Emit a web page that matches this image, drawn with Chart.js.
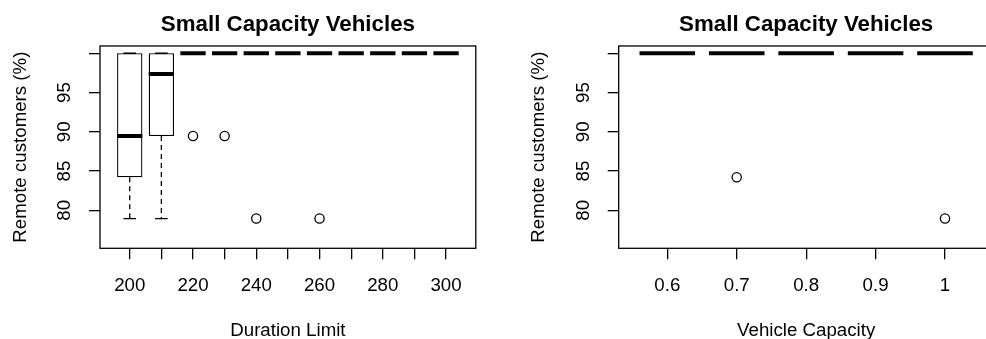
<!DOCTYPE html>
<html><head><meta charset="utf-8">
<script src="https://cdn.jsdelivr.net/npm/chart.js@4"></script>
<style>
html,body{margin:0;padding:0;overflow:hidden;background:#fff;width:986px;height:339px;}
#left{position:absolute;left:0;top:0;}
#right{position:absolute;left:493px;top:0;}
</style></head><body>
<canvas id="left" width="493" height="339"></canvas>
<canvas id="right" width="510" height="339"></canvas>
<script>
// ---- data ----
const durationCategories   = [200, 210, 220, 230, 240, 250, 260, 270, 280, 290, 300];
const durationTickLabels   = ['200', '', '220', '', '240', '', '260', '', '280', '', '300'];
const durationLowerWhisker = [78.95, 78.95, 100, 100, 100, 100, 100, 100, 100, 100, 100];
const durationLowerHinge   = [84.21, 89.47, 100, 100, 100, 100, 100, 100, 100, 100, 100];
const durationMedian       = [89.47, 97.37, 100, 100, 100, 100, 100, 100, 100, 100, 100];
const durationUpperHinge   = [100, 100, 100, 100, 100, 100, 100, 100, 100, 100, 100];
const durationUpperWhisker = [100, 100, 100, 100, 100, 100, 100, 100, 100, 100, 100];
const durationOutlierCategory = [220, 230, 240, 260];
const durationOutlierValue    = [89.47, 89.47, 78.95, 78.95];

const capacityCategories   = [0.6, 0.7, 0.8, 0.9, 1];
const capacityTickLabels   = ['0.6', '0.7', '0.8', '0.9', '1'];
const capacityLowerWhisker = [100, 100, 100, 100, 100];
const capacityLowerHinge   = [100, 100, 100, 100, 100];
const capacityMedian       = [100, 100, 100, 100, 100];
const capacityUpperHinge   = [100, 100, 100, 100, 100];
const capacityUpperWhisker = [100, 100, 100, 100, 100];
const capacityOutlierCategory = [0.7, 1];
const capacityOutlierValue    = [84.21, 78.95];

const yTickValues = [80, 85, 90, 95, 100];
const yTickLabels = ['80', '85', '90', '95', ''];
const yMin = 75.16, yMax = 100.93;

const chartTitle = 'Small Capacity Vehicles';
const yTitle = 'Remote customers (%)';

// ---- rendering ----
const FONT = "'Liberation Sans', Arial, Helvetica, sans-serif";
Chart.defaults.font.family = FONT;
Chart.defaults.color = '#000';
const LW = 1.3;

const framePlugin = {
  id: 'frame',
  afterDatasetsDraw(chart) {
    const {ctx, chartArea: a} = chart;
    ctx.save();
    ctx.strokeStyle = '#000';
    ctx.lineWidth = LW;
    ctx.strokeRect(a.left, a.top, a.right - a.left, a.bottom - a.top);
    ctx.restore();
  }
};

function segments(cats, fromArr, toArr, halfWidth, horizontal) {
  const pts = [];
  cats.forEach((c, i) => {
    const x = i + 1;
    if (horizontal) {
      pts.push({x: x - halfWidth, y: fromArr[i]});
      pts.push({x: x + halfWidth, y: fromArr[i]});
    } else {
      pts.push({x: x, y: fromArr[i]});
      pts.push({x: x, y: toArr[i]});
    }
    pts.push({x: x + 0.5, y: null});
  });
  return pts;
}

function makeChart(canvasId, o) {
  const cats = o.categories;
  const n = cats.length;
  const pad = 0.04 * n;
  const datasets = [
    { // median
      type: 'line', order: 0,
      data: segments(cats, o.median, null, 0.4, true),
      borderColor: '#000', borderWidth: 4, borderCapStyle: 'butt',
      pointRadius: 0, spanGaps: false, fill: false
    },
    { // outliers
      type: 'line', order: 1, showLine: false,
      data: o.outCat.map((c, k) => ({x: cats.indexOf(c) + 1, y: o.outVal[k]})),
      pointStyle: 'circle', pointRadius: 4.6,
      pointBackgroundColor: '#fff', pointBorderColor: '#000', pointBorderWidth: LW
    },
    { // whisker caps low
      type: 'line', order: 2,
      data: segments(cats, o.lowW, null, 0.2, true),
      borderColor: '#000', borderWidth: LW, borderCapStyle: 'butt', pointRadius: 0, spanGaps: false
    },
    { // whisker caps high
      type: 'line', order: 2,
      data: segments(cats, o.highW, null, 0.2, true),
      borderColor: '#000', borderWidth: LW, borderCapStyle: 'butt', pointRadius: 0, spanGaps: false
    },
    { // lower whiskers
      type: 'line', order: 3,
      data: segments(cats, o.lowH, o.lowW, 0, false),
      borderColor: '#000', borderWidth: LW, borderDash: [5, 4], borderCapStyle: 'butt', pointRadius: 0, spanGaps: false
    },
    { // upper whiskers
      type: 'line', order: 3,
      data: segments(cats, o.highH, o.highW, 0, false),
      borderColor: '#000', borderWidth: LW, borderDash: [5, 4], borderCapStyle: 'butt', pointRadius: 0, spanGaps: false
    },
    { // boxes
      type: 'bar', order: 4,
      data: cats.map((c, i) => ({x: i + 1, y: [o.lowH[i], o.highH[i]]})),
      backgroundColor: '#fff', borderColor: '#000', borderWidth: LW, borderSkipped: false,
      categoryPercentage: 1, barPercentage: 0.8
    }
  ];
  return new Chart(document.getElementById(canvasId), {
    type: 'bar',
    data: {datasets},
    plugins: [framePlugin],
    options: {
      responsive: false, animation: false, devicePixelRatio: 1,
      layout: {padding: o.padding},
      plugins: {
        legend: {display: false}, tooltip: {enabled: false},
        title: {display: true, text: chartTitle, fullSize: false,
          font: {size: 22.3, weight: 'bold'}, color: '#000', padding: {top: 11.7, bottom: 7.5}}
      },
      scales: {
        x: {
          type: 'linear', offset: false, min: 0.5 - pad, max: n + 0.5 + pad,
          afterBuildTicks: s => { s.ticks = cats.map((c, i) => ({value: i + 1})); },
          afterFit: s => { s.height = 90.7; },
          ticks: {callback: (v, idx) => o.tickLabels[idx], autoSkip: false, minRotation: 0, maxRotation: 0,
            padding: 15, font: {size: 18.7}, color: '#000'},
          grid: {offset: false, drawOnChartArea: false, drawTicks: true, tickLength: 11, color: '#000', lineWidth: LW},
          border: {display: false},
          title: {display: true, text: o.xTitle, font: {size: 18.7, lineHeight: 0.9}, padding: {top: 0, bottom: 0}, color: '#000'}
        },
        y: {
          type: 'linear', min: yMin, max: yMax,
          afterBuildTicks: s => { s.ticks = yTickValues.map(v => ({value: v})); },
          afterFit: s => { s.width = 100; },
          ticks: {callback: (v, idx) => yTickLabels[idx], minRotation: 90, maxRotation: 90, crossAlign: 'center',
            padding: 13.6, font: {size: 18.7}, color: '#000'},
          grid: {drawOnChartArea: false, drawTicks: true, tickLength: 11, color: '#000', lineWidth: LW},
          border: {display: false},
          title: {display: true, text: yTitle, font: {size: 18.7}, padding: {top: 9.3, bottom: 0}, color: '#000'}
        }
      }
    }
  });
}

makeChart('left', {
  categories: durationCategories, tickLabels: durationTickLabels,
  lowW: durationLowerWhisker, lowH: durationLowerHinge, median: durationMedian,
  highH: durationUpperHinge, highW: durationUpperWhisker,
  outCat: durationOutlierCategory, outVal: durationOutlierValue,
  xTitle: 'Duration Limit',
  padding: {left: 0, right: 17.2, top: 0, bottom: 0}
});
makeChart('right', {
  categories: capacityCategories, tickLabels: capacityTickLabels,
  lowW: capacityLowerWhisker, lowH: capacityLowerHinge, median: capacityMedian,
  highH: capacityUpperHinge, highW: capacityUpperWhisker,
  outCat: capacityOutlierCategory, outVal: capacityOutlierValue,
  xTitle: 'Vehicle Capacity',
  padding: {left: 25.7, right: 9.4, top: 0, bottom: 0}
});
</script>
</body></html>
